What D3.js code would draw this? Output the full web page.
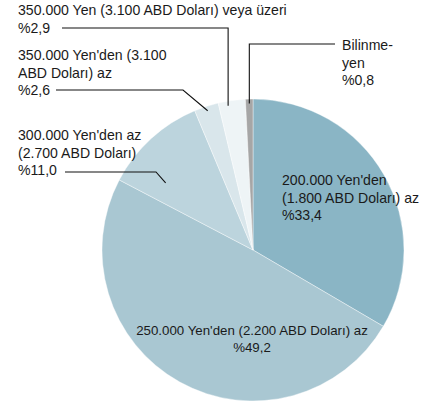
<!DOCTYPE html>
<html>
<head>
<meta charset="utf-8">
<script src="https://cdn.jsdelivr.net/npm/d3@7"></script>
<style>
  body { margin: 0; background: #fff; }
  text { font-family: "Liberation Sans", Arial, sans-serif; fill: #1a1a1a; }
</style>
</head>
<body>
<div class="container"></div>
<script>
const width = 433;
const height = 403;

// data, clockwise from 12 o'clock
const categories = [
    ["200.000 Yen'den", "(1.800 ABD Doları) az"],
    ["250.000 Yen'den (2.200 ABD Doları) az"],
    ["300.000 Yen'den az", "(2.700 ABD Doları)"],
    ["350.000 Yen'den (3.100", "ABD Doları) az"],
    ["350.000 Yen (3.100 ABD Doları) veya üzeri"],
    ["Bilinme-", "yen"]
];
const values = [33.4, 49.2, 11.0, 2.6, 2.9, 0.8];
const valueLabels = ["%33,4", "%49,2", "%11,0", "%2,6", "%2,9", "%0,8"];

const colors = ["#8ab5c5", "#a9c7d2", "#bcd4dd", "#d9e6eb", "#eef4f6", "#a6a6a6"];

const cx = 253, cy = 250, radius = 151;

// label layout: inside labels have x/y/anchor, outside labels also get a leader
const layout = [
    { x: 282, y: 185, anchor: "start", size: 14.1, lh: 17.5 },
    { x: 252, y: 335, anchor: "middle", size: 13.3, lh: 17 },
    { x: 18, y: 140, anchor: "start", size: 14.1, lh: 17.5, lead: { x0: 65, y0: 172, x1: 156, t: 0.25, rr: 0.73 } },
    { x: 18, y: 60, anchor: "start", size: 14.1, lh: 17.5, lead: { x0: 56, y0: 90, x1: 183, t: 0.5, rr: 0.97 } },
    { x: 18, y: 15, anchor: "start", size: 14.1, lh: 17.5, lead: { x0: 62, y0: 28, x1: null, t: 0.34, rr: 0.97 } },
    { x: 342, y: 50, anchor: "start", size: 14.1, lh: 17.5, lead: { x0: 335, y0: 44, x1: null, t: 0.5, rr: 0.97 } }
];

const svg = d3.select(".container")
    .append("svg")
    .attr("width", width)
    .attr("height", height);

const pie = d3.pie().sort(null).value(d => d);
const arcs = pie(values);
const arc = d3.arc().innerRadius(0).outerRadius(radius);

const canvas = svg.append("g")
    .attr("transform", `translate(${cx}, ${cy})`);

canvas.selectAll("path")
    .data(arcs)
    .join("path")
    .attr("d", arc)
    .attr("fill", (d, i) => colors[i])
    .attr("stroke", "#fff")
    .attr("stroke-width", 0.4);

// leaders
layout.forEach((l, i) => {
    if (!l.lead) return;
    const a = arcs[i];
    const ang = a.startAngle + (a.endAngle - a.startAngle) * l.lead.t;
    const ex = cx + Math.sin(ang) * radius * l.lead.rr;
    const ey = cy - Math.cos(ang) * radius * l.lead.rr;
    const x1 = l.lead.x1 === null ? ex : l.lead.x1;
    svg.append("polyline")
        .attr("points", `${l.lead.x0},${l.lead.y0} ${x1},${l.lead.y0} ${ex},${ey}`)
        .attr("fill", "none")
        .attr("stroke", "#111")
        .attr("stroke-width", 1.1);
});

// labels
layout.forEach((l, i) => {
    const lines = categories[i].concat([valueLabels[i]]);
    const t = svg.append("text")
        .attr("x", l.x)
        .attr("y", l.y)
        .attr("font-size", l.size + "px")
        .attr("text-anchor", l.anchor);
    lines.forEach((s, j) => {
        t.append("tspan")
            .attr("x", l.x)
            .attr("dy", j === 0 ? 0 : l.lh)
            .text(s);
    });
});
</script>
</body>
</html>
